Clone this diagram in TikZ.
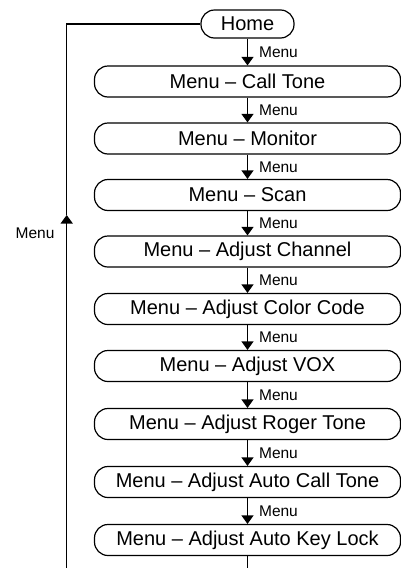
\documentclass[tikz,border=0pt]{standalone}
\usepackage{fontspec}
\setmainfont{Liberation Sans}
\usetikzlibrary{arrows.meta}
\tikzset{
  stbox/.style={draw, line width=1.2pt, rounded corners=13.5pt, minimum width=306pt, minimum height=31pt, inner sep=0pt, font=\fontsize{20}{24}\selectfont},
  homebox/.style={stbox, minimum width=93pt, minimum height=28pt},
  conn/.style={line width=1.2pt},
  arr/.style={conn, -{Triangle[width=12pt,length=8.5pt]}},
  lbl/.style={inner sep=0pt, font=\fontsize{15.5}{18}\selectfont}
}
\begin{document}
\begin{tikzpicture}[x=1pt,y=-1pt]
\useasboundingbox (0,0) rectangle (401,568);
\node[homebox] (home) at (247.5,24) {Home};
\node[stbox] (b1) at (247.5,81.5) {Menu – Call Tone};
\node[stbox] (b2) at (247.5,138.5) {Menu – Monitor};
\node[stbox] (b3) at (247.5,195) {Menu – Scan};
\node[stbox] (b4) at (247.5,251.5) {Menu – Adjust Channel};
\node[stbox] (b5) at (247.5,309) {Menu – Adjust Color Code};
\node[stbox] (b6) at (247.5,366) {Menu – Adjust VOX};
\node[stbox] (b7) at (247.5,424) {Menu – Adjust Roger Tone};
\node[stbox] (b8) at (247.5,482) {Menu – Adjust Auto Call Tone};
\node[stbox] (b9) at (247.5,540) {Menu – Adjust Auto Key Lock};
\foreach \a/\b in {home/b1,b1/b2,b2/b3,b3/b4,b4/b5,b5/b6,b6/b7,b7/b8,b8/b9}{
  \draw[arr] (\a.south) -- (\b.north) node[lbl, midway, anchor=west, xshift=11pt] (l\b) {Menu};
}
\coordinate (kbot) at (247.5,568);
\coordinate (lbot) at (66.7,568);
\coordinate (ltip) at (66.7,215);
\draw[conn] (b9.south) -- (kbot);
\draw[arr] (lbot) -- (ltip);
\draw[conn] (ltip) |- (home.west);
\node[lbl] (lm) at (35,233) {Menu};
\end{tikzpicture}
\end{document}
